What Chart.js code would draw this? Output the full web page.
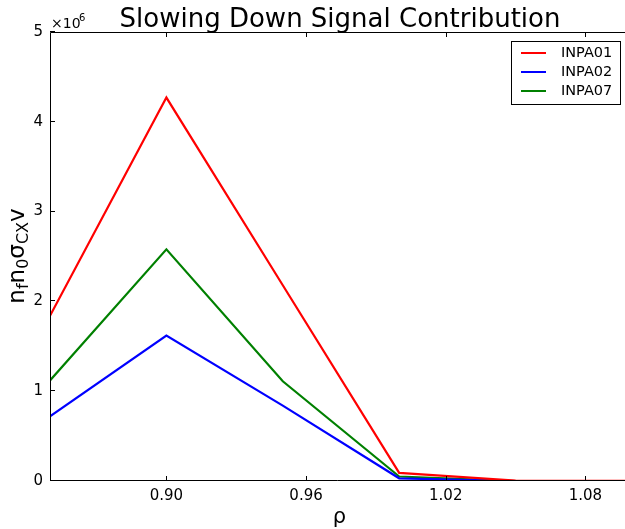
<!DOCTYPE html>
<html>
<head>
<meta charset="utf-8">
<script src="https://cdn.jsdelivr.net/npm/chart.js@4/dist/chart.umd.min.js"></script>
<style>
  html, body { margin: 0; padding: 0; background: #fff; }
  #wrap { width: 625px; height: 529px; }
</style>
</head>
<body>
<div id="wrap"><canvas id="grafico"></canvas></div>
<script>
const rho = [0.85, 0.90, 0.95, 1.00, 1.05, 1.10];
const inpa01 = [1.84e6, 4.27e6, 2.18e6, 0.09e6, 0.005e6, 0];
const inpa02 = [0.72e6, 1.62e6, 0.84e6, 0.03e6, 0, 0];
const inpa07 = [1.12e6, 2.58e6, 1.11e6, 0.05e6, 0, 0];
const xTicks = [0.90, 0.96, 1.02, 1.08];
const yTicks = [0, 1e6, 2e6, 3e6, 4e6, 5e6];

const FONT = 'DejaVu Sans';

function pares(ys) {
  return rho.map((x, i) => ({ x: x, y: ys[i] }));
}

// eixos, ticks para dentro, legenda e textos
const extras = {
  id: 'extras',
  afterDraw(chart) {
    const ctx = chart.ctx;
    const a = chart.chartArea;
    const sx = chart.scales.x;
    const sy = chart.scales.y;
    ctx.save();

    // bordas
    ctx.strokeStyle = '#000';
    ctx.lineWidth = 1;
    ctx.beginPath();
    ctx.moveTo(a.right, a.top + 0.5);
    ctx.lineTo(a.left + 0.5, a.top + 0.5);
    ctx.lineTo(a.left + 0.5, a.bottom - 0.5);
    ctx.lineTo(a.right, a.bottom - 0.5);
    ctx.stroke();

    // ticks
    ctx.beginPath();
    xTicks.forEach(v => {
      const px = Math.round(sx.getPixelForValue(v)) + 0.5;
      ctx.moveTo(px, a.bottom); ctx.lineTo(px, a.bottom - 5);
      ctx.moveTo(px, a.top); ctx.lineTo(px, a.top + 5);
    });
    yTicks.forEach(v => {
      const py = Math.round(sy.getPixelForValue(v)) - 0.5;
      ctx.moveTo(a.left, py); ctx.lineTo(a.left + 5, py);
    });
    ctx.stroke();

    // titulo
    ctx.fillStyle = '#000';
    ctx.textAlign = 'center';
    ctx.textBaseline = 'alphabetic';
    ctx.font = '26px "' + FONT + '"';
    ctx.fillText('Slowing Down Signal Contribution', 340, 27);

    // multiplicador
    ctx.textAlign = 'left';
    ctx.font = '14px "' + FONT + '"';
    ctx.fillText('\u00d710', 51, 28);
    ctx.font = '10px "' + FONT + '"';
    ctx.fillText('6', 79, 21);

    // titulo x
    ctx.textAlign = 'center';
    ctx.font = '21px "' + FONT + '"';
    ctx.fillText('\u03c1', (a.left + a.right) / 2 + 2, 523);

    // titulo y com subscritos
    ctx.translate(24, 256);
    ctx.rotate(-Math.PI / 2);
    const partes = [['n', false], ['f', true], ['n', false], ['0', true], ['\u03c3', false], ['CX', true], ['v', false]];
    let w = 0;
    partes.forEach(p => {
      ctx.font = (p[1] ? '16px ' : '23px ') + '"' + FONT + '"';
      w += ctx.measureText(p[0]).width;
    });
    let cx = -w / 2;
    ctx.textAlign = 'left';
    partes.forEach(p => {
      ctx.font = (p[1] ? '16px ' : '23px ') + '"' + FONT + '"';
      ctx.fillText(p[0], cx, p[1] ? 4 : 0);
      cx += ctx.measureText(p[0]).width;
    });
    ctx.setTransform(1, 0, 0, 1, 0, 0);

    // legenda
    const lx = 511, ly = 41, lw = 109, lh = 63;
    ctx.fillStyle = '#fff';
    ctx.fillRect(lx, ly, lw, lh);
    ctx.strokeStyle = '#000';
    ctx.lineWidth = 1;
    ctx.strokeRect(lx + 0.5, ly + 0.5, lw, lh);
    ctx.font = '14.5px "' + FONT + '"';
    ctx.textBaseline = 'middle';
    chart.data.datasets.forEach((ds, i) => {
      const yy = ly + 12 + i * 19;
      ctx.strokeStyle = ds.borderColor;
      ctx.lineWidth = 2;
      ctx.beginPath();
      ctx.moveTo(lx + 10, yy); ctx.lineTo(lx + 35, yy);
      ctx.stroke();
      ctx.fillStyle = '#000';
      ctx.fillText(ds.label, lx + 50, yy);
    });

    ctx.restore();
  }
};

new Chart(document.getElementById('grafico'), {
  type: 'line',
  data: {
    datasets: [
      { label: 'INPA01', data: pares(inpa01), borderColor: '#ff0000' },
      { label: 'INPA02', data: pares(inpa02), borderColor: '#0000ff' },
      { label: 'INPA07', data: pares(inpa07), borderColor: '#008000' }
    ]
  },
  options: {
    responsive: true,
    maintainAspectRatio: false,
    animation: false,
    layout: { padding: { top: 32, left: 0, right: 0, bottom: 0 } },
    elements: {
      line: { borderWidth: 2.2, tension: 0 },
      point: { radius: 0 }
    },
    plugins: {
      legend: { display: false },
      title: { display: false },
      tooltip: { enabled: false }
    },
    scales: {
      x: {
        type: 'linear',
        min: 0.85,
        max: 1.097,
        grid: { display: false, drawTicks: false },
        border: { display: false },
        afterBuildTicks: s => { s.ticks = xTicks.map(v => ({ value: v })); },
        afterFit: s => { s.height = 48; },
        ticks: {
          padding: 6,
          color: '#000',
          font: { family: FONT, size: 15 },
          maxRotation: 0,
          callback: v => v.toFixed(2)
        }
      },
      y: {
        min: 0,
        max: 5e6,
        grid: { display: false, drawTicks: false },
        border: { display: false },
        afterBuildTicks: s => { s.ticks = yTicks.map(v => ({ value: v })); },
        afterFit: s => { s.width = 50; },
        ticks: {
          padding: 7,
          color: '#000',
          font: { family: FONT, size: 15 },
          callback: v => String(v / 1e6)
        }
      }
    }
  },
  plugins: [extras]
});
</script>
</body>
</html>
